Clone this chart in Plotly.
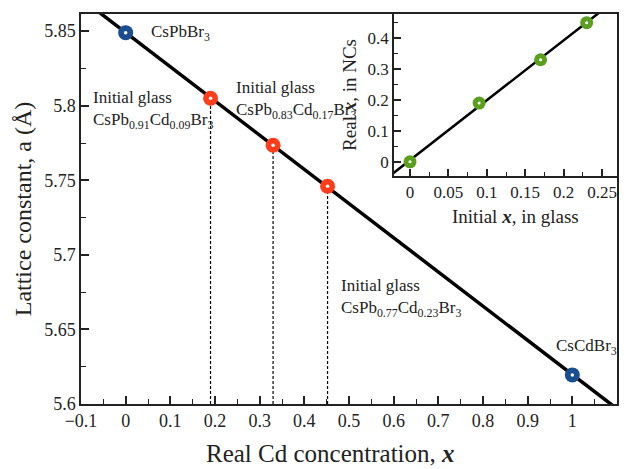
import numpy as np
import plotly.graph_objects as go

# Main panel data
end_x = [0.0, 1.0]
end_a = [5.849, 5.6195]
end_names = ["CsPbBr<sub>3</sub>", "CsCdBr<sub>3</sub>"]
mid_x = [0.19, 0.33, 0.452]
mid_a = [5.805, 5.7735, 5.746]
glass_labels = [
    "Initial glass<br>CsPb<sub>0.91</sub>Cd<sub>0.09</sub>Br<sub>3</sub>",
    "Initial glass<br>CsPb<sub>0.83</sub>Cd<sub>0.17</sub>Br<sub>3</sub>",
    "Initial glass<br>CsPb<sub>0.77</sub>Cd<sub>0.23</sub>Br<sub>3</sub>",
]
x_ticks = [-0.1, 0, 0.1, 0.2, 0.3, 0.4, 0.5, 0.6, 0.7, 0.8, 0.9, 1, 1.1]
x_ticktext = ["\u22120.1", "0", "0.1", "0.2", "0.3", "0.4", "0.5", "0.6", "0.7", "0.8", "0.9", "1", "1.1"]
y_ticks = [5.6, 5.65, 5.7, 5.75, 5.8, 5.85]
y_ticktext = ["5.6", "5.65", "5.7", "5.75", "5.8", "5.85"]
# Inset data
init_x = [0.0, 0.09, 0.17, 0.23]
real_x = [0.0, 0.19, 0.33, 0.45]
ix_ticks = [0, 0.05, 0.1, 0.15, 0.2, 0.25]
iy_ticks = [0, 0.1, 0.2, 0.3, 0.4]

FONT = "Liberation Serif"
BLUE = "#1a4f8f"
RED = "#ff3d1a"
GREEN = "#5b9f1f"
INK = "#222222"

fig = go.Figure()

# Vegard line (fit through all points)
all_x = end_x + mid_x
all_a = end_a + mid_a
k, b = np.polyfit(all_x, all_a, 1)
lx = np.array([-0.1, 1.12])
fig.add_trace(go.Scatter(x=lx, y=k * lx + b, mode="lines",
                         line=dict(color="black", width=3.5), showlegend=False,
                         hoverinfo="skip"))

# dashed drop lines
for xv, yv in zip(mid_x, mid_a):
    fig.add_trace(go.Scatter(x=[xv, xv], y=[5.6, yv], mode="lines",
                             line=dict(color="black", width=1.2, dash="3px,2px"),
                             showlegend=False, hoverinfo="skip"))

# markers
fig.add_trace(go.Scatter(x=end_x, y=end_a, mode="markers",
                         marker=dict(size=15, color=BLUE), showlegend=False,
                         cliponaxis=False))
fig.add_trace(go.Scatter(x=mid_x, y=mid_a, mode="markers",
                         marker=dict(size=15, color=RED), showlegend=False,
                         cliponaxis=False))
fig.add_trace(go.Scatter(x=all_x, y=all_a, mode="markers",
                         marker=dict(size=3.5, color="white"), showlegend=False,
                         cliponaxis=False))

# Inset
k2, b2 = np.polyfit(init_x, real_x, 1)
ix = np.array([-0.03, 0.28])
fig.add_trace(go.Scatter(x=ix, y=k2 * ix + b2, mode="lines",
                         line=dict(color="black", width=2.5), showlegend=False,
                         xaxis="x2", yaxis="y2", hoverinfo="skip"))
fig.add_trace(go.Scatter(x=init_x, y=real_x, mode="markers",
                         marker=dict(size=13, color=GREEN), showlegend=False,
                         xaxis="x2", yaxis="y2", cliponaxis=False))
fig.add_trace(go.Scatter(x=init_x, y=real_x, mode="markers",
                         marker=dict(size=3, color="white"), showlegend=False,
                         xaxis="x2", yaxis="y2", cliponaxis=False))


def ax(size, **kw):
    d = dict(showline=True, linecolor=INK, linewidth=1.5, mirror=True,
             ticks="inside", tickcolor=INK, tickwidth=1.5, showgrid=False, zeroline=False,
             automargin=False, tickfont=dict(family=FONT, size=size, color=INK))
    d.update(kw)
    return d


fig.update_layout(
    width=628, height=469,
    margin=dict(l=81, r=11, t=14, b=65),
    paper_bgcolor="white", plot_bgcolor="white",
    font=dict(family=FONT, color=INK),
    xaxis=ax(18, range=[-0.1, 1.1], tickvals=x_ticks, ticktext=x_ticktext, ticklen=8,
             minor=dict(dtick=0.05, tick0=0, ticks="inside", ticklen=5, tickcolor=INK, tickwidth=1.3),
             domain=[0, 1]),
    yaxis=ax(18, range=[5.6, 5.8615], tickvals=y_ticks, ticktext=y_ticktext, ticklen=8,
             minor=dict(dtick=0.025, tick0=5.6, ticks="inside", ticklen=5, tickcolor=INK, tickwidth=1.3),
             title=dict(text="Lattice constant, a (Å)",
                        font=dict(family=FONT, size=24, color=INK), standoff=6),
             domain=[0, 1]),
    xaxis2=ax(17, anchor="y2", domain=[0.584, 1.0], range=[-0.0208, 0.2695],
              tickvals=ix_ticks, ticktext=[str(v) for v in ix_ticks], ticklen=7,
              minor=dict(dtick=0.025, tick0=0, ticks="inside", ticklen=4, tickcolor=INK, tickwidth=1.3)),
    yaxis2=ax(17, anchor="x2", domain=[0.585, 1.0], range=[-0.0455, 0.478],
              tickvals=iy_ticks, ticktext=[str(v) for v in iy_ticks], ticklen=7,
              minor=dict(dtick=0.05, tick0=0, ticks="inside", ticklen=4, tickcolor=INK, tickwidth=1.3),
              title=dict(text="Real <b><i>x</i></b>, in NCs",
                         font=dict(family=FONT, size=19, color=INK), standoff=6)),
)

# axis titles placed as in the reference
fig.add_annotation(x=0.466, y=-0.127, xref="paper", yref="paper",
                   text="Real Cd concentration, <b><i>x</i></b>", showarrow=False,
                   xanchor="center", yanchor="middle", font=dict(family=FONT, size=25, color=INK))
fig.add_annotation(x=0.811, y=0.482, xref="paper", yref="paper",
                   text="Initial <b><i>x</i></b>, in glass", showarrow=False,
                   xanchor="center", yanchor="middle", font=dict(family=FONT, size=19, color=INK))

ann_font = dict(family=FONT, size=17, color=INK)
# endpoint labels
fig.add_annotation(x=end_x[0] + 0.052, y=end_a[0], text=end_names[0], showarrow=False,
                   xanchor="left", yanchor="middle", font=ann_font)
fig.add_annotation(x=end_x[1] - 0.04, y=end_a[1] + 0.019, text=end_names[1], showarrow=False,
                   xanchor="left", yanchor="middle", font=ann_font)
# glass labels
fig.add_annotation(x=-0.077, y=5.797, text=glass_labels[0], showarrow=False,
                   xanchor="left", yanchor="middle", font=ann_font, align="left")
fig.add_annotation(x=0.243, y=5.804, text=glass_labels[1], showarrow=False,
                   xanchor="left", yanchor="middle", font=ann_font, align="left")
fig.add_annotation(x=0.478, y=5.671, text=glass_labels[2], showarrow=False,
                   xanchor="left", yanchor="middle", font=ann_font, align="left")

fig.write_html("out.html")
